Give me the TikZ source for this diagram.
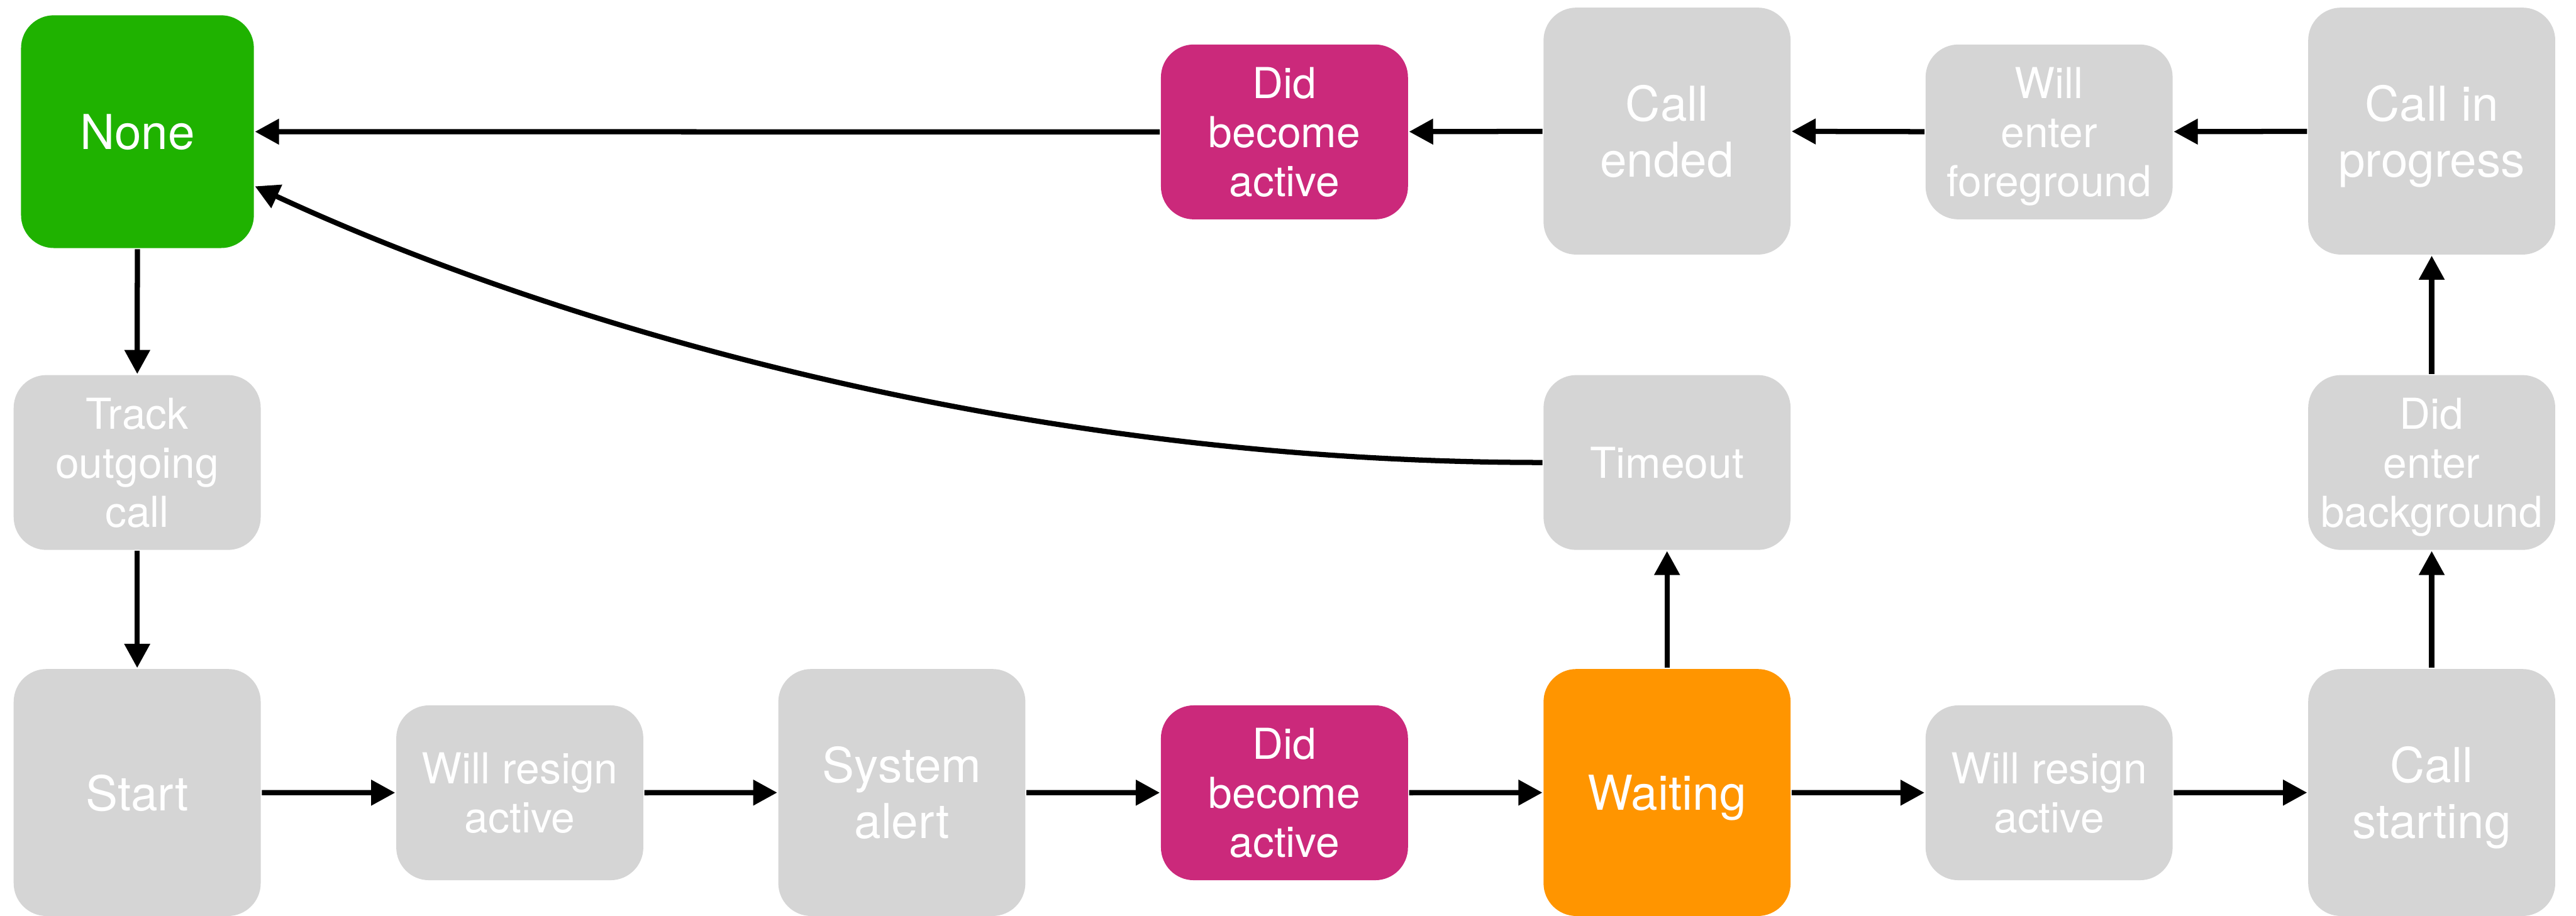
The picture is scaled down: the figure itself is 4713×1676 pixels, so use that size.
\documentclass[tikz,border=0pt]{standalone}
\usepackage{fontspec}
\setmainfont{TeX Gyre Heros}
\usetikzlibrary{arrows.meta}
\definecolor{stgray}{RGB}{213,213,213}
\definecolor{stgreen}{RGB}{31,178,0}
\definecolor{stmagenta}{RGB}{203,41,123}
\definecolor{storange}{RGB}{255,149,0}
\begin{document}
\begin{tikzpicture}[x=0.1pt,y=-0.1pt,
  box/.style={rounded corners=6pt, inner sep=0pt, align=center, text=white,
    text depth=0pt, minimum width=45.2pt, fill=stgray},
  smallbox/.style={box, minimum height=32pt, font=\fontsize{7.8}{9}\selectfont},
  largebox/.style={box, minimum height=45.2pt, font=\fontsize{8.8}{10.3}\selectfont},
  arr/.style={line width=0.95pt, -{Triangle[length=4.4pt,width=4.5pt]}}]

% canvas
\fill[white] (0,0) rectangle (4713,1676);
\useasboundingbox (0,0) rectangle (4713,1676);

% top row
\node[largebox, fill=stgreen, minimum width=42.6pt, minimum height=42.6pt] (none) at (251.5,241) {None};
\node[smallbox, fill=stmagenta] (dbaTop) at (2350,241.5) {Did\\become\\active};
\node[largebox] (ended) at (3050,240) {Call\\ended};
\node[smallbox] (wef) at (3749,241.5) {Will\\enter\\foreground};
\node[largebox] (inprog) at (4449,240) {Call in\\progress};

% middle row
\node[smallbox] (track) at (251,846.5) {Track\\outgoing\\call};
\node[smallbox] (timeout) at (3050,846.5) {Timeout};
\node[smallbox] (deb) at (4449,846.5) {Did\\enter\\background};

% bottom row
\node[largebox] (start) at (251,1450.5) {Start};
\node[smallbox] (wra1) at (951,1451) {Will resign\\active};
\node[largebox] (alert) at (1650,1450.5) {System\\alert};
\node[smallbox, fill=stmagenta] (dbaBot) at (2350,1451) {Did\\become\\active};
\node[largebox, fill=storange] (waiting) at (3050,1450.5) {Waiting};
\node[smallbox] (wra2) at (3749,1451) {Will resign\\active};
\node[largebox] (cstart) at (4449,1450.5) {Call\\starting};

% outgoing call path
\draw[arr] (none) -- (track);
\draw[arr] (track) -- (start);
\draw[arr] (start) -- (wra1);
\draw[arr] (wra1) -- (alert);
\draw[arr] (alert) -- (dbaBot);
\draw[arr] (dbaBot) -- (waiting);
\draw[arr] (waiting) -- (wra2);
\draw[arr] (wra2) -- (cstart);
\draw[arr] (cstart) -- (deb);
\draw[arr] (deb) -- (inprog);
\draw[arr] (inprog) -- (wef);
\draw[arr] (wef) -- (ended);
\draw[arr] (ended) -- (dbaTop);
\draw[arr] (dbaTop) -- (none);

% timeout branch
\draw[arr] (waiting) -- (timeout);
\draw[arr] (timeout.west) .. controls +(-1000,0) and +(498,232) .. ([yshift=-10pt]none.east);
\end{tikzpicture}
\end{document}
